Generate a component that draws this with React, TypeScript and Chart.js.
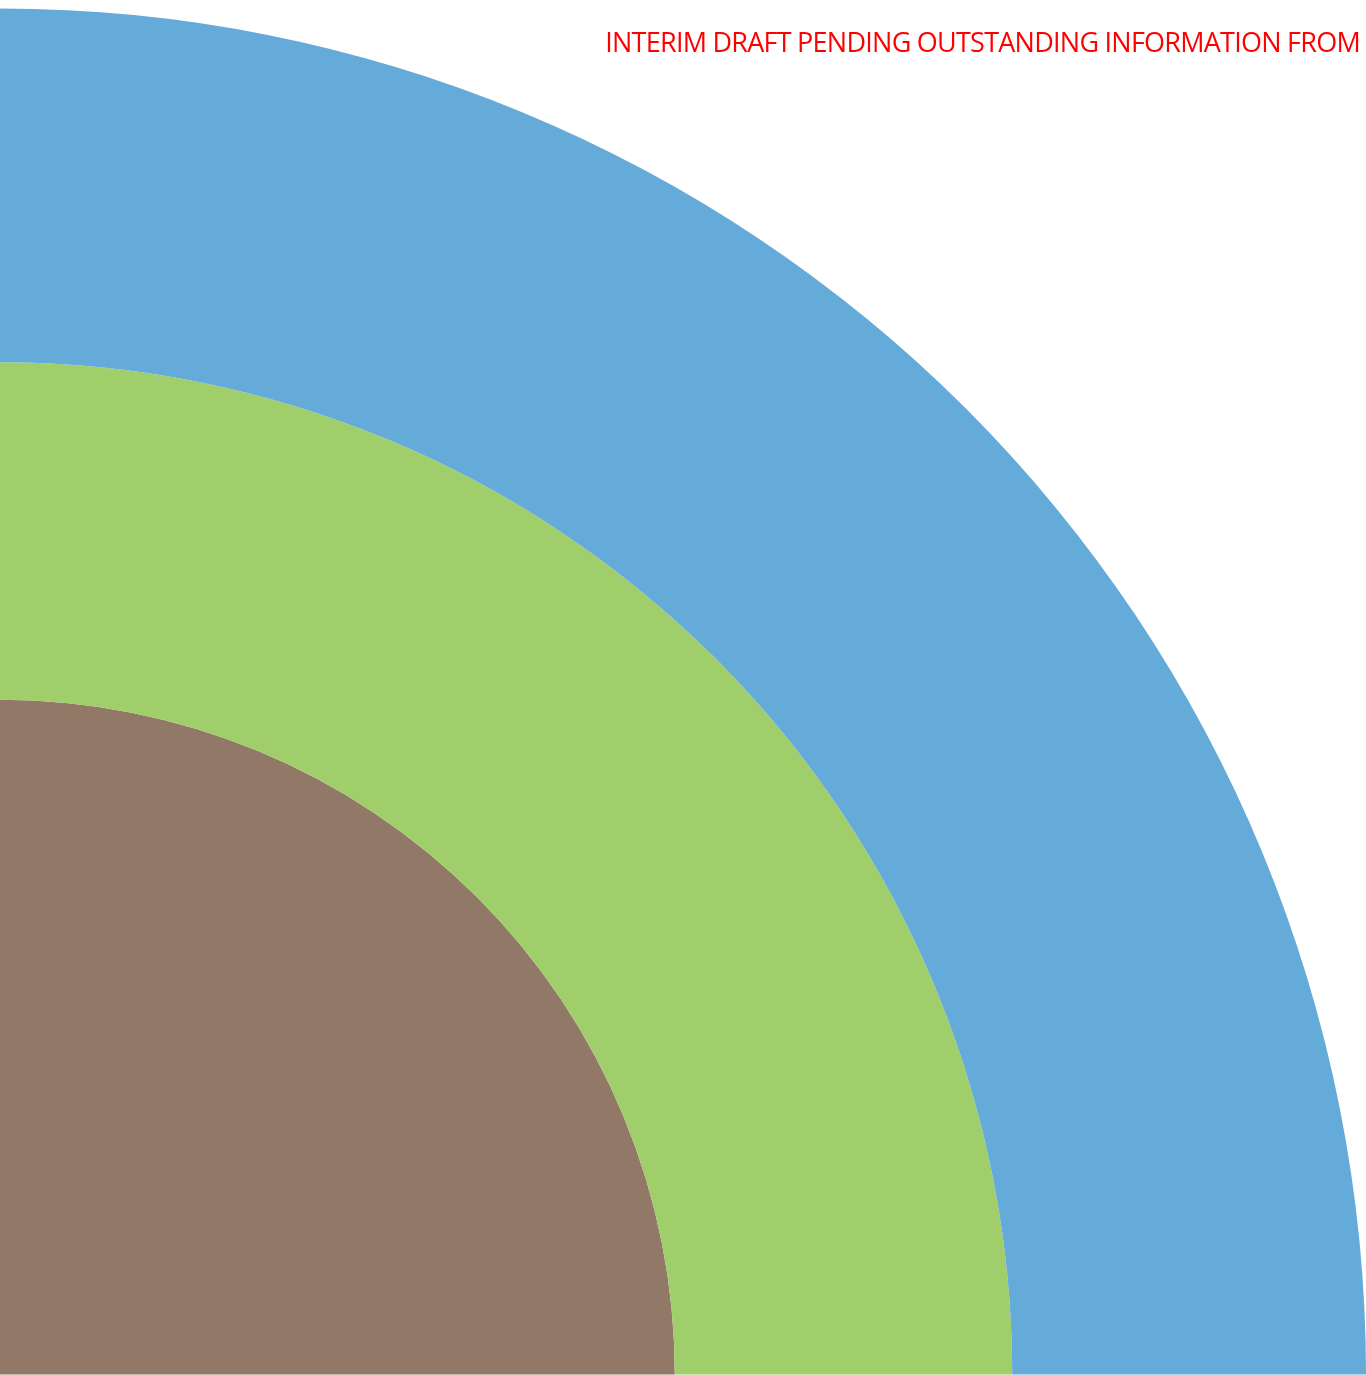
import React, { useEffect, useRef } from "react";
import { Chart, registerables } from "chart.js";

Chart.register(...registerables);

const ringLabels = ["Outer ring", "Middle ring", "Inner core"];
const ringRadii = [100, 74.1, 49.4];
const ringColors = ["#65abd9", "#9fce6b", "#927866"];
const noteText = "INTERIM DRAFT PENDING OUTSTANDING INFORMATION FROM";

export default function App() {
  const ref = useRef<HTMLCanvasElement | null>(null);

  useEffect(() => {
    const canvas = ref.current;
    if (!canvas) return;
    const datasets = ringLabels.map((label, i) => {
      const inner = i + 1 < ringRadii.length ? ringRadii[i + 1] : 0;
      return {
        label,
        data: [1],
        backgroundColor: [ringColors[i]],
        borderWidth: 0,
        weight: ringRadii[i] - inner,
        hoverOffset: 0,
      };
    });
    const chart = new Chart(canvas, {
      type: "doughnut",
      data: { labels: ["Area"], datasets },
      options: {
        responsive: false,
        animation: false,
        devicePixelRatio: 1,
        rotation: 0,
        circumference: 90,
        cutout: 0,
        layout: { padding: { top: 8, left: 0, right: 0, bottom: 0 } },
        plugins: {
          legend: { display: false },
          tooltip: { enabled: false },
          title: { display: false },
        },
      },
    });
    return () => chart.destroy();
  }, []);

  return (
    <div style={{ position: "absolute", left: 0, top: 0, width: 1366, height: 1375, overflow: "hidden", background: "#fff" }}>
      <canvas ref={ref} width={1366} height={1375} style={{ position: "absolute", left: 0, top: 0, width: 1366, height: 1375 }} />
      <div
        style={{
          position: "absolute",
          right: 6,
          top: 23,
          color: "#ff0000",
          fontFamily: "'Open Sans', sans-serif",
          fontSize: 27,
          whiteSpace: "nowrap",
          letterSpacing: -0.75,
        }}
      >
        {noteText}
      </div>
    </div>
  );
}
